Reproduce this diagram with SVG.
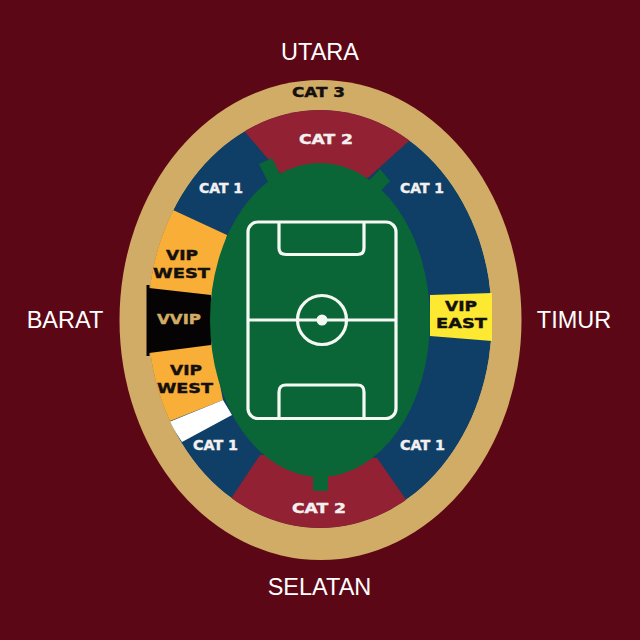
<svg xmlns="http://www.w3.org/2000/svg" width="640" height="640" viewBox="0 0 640 640">
<style>
.d{font-family:"Liberation Sans",Arial,sans-serif;font-size:23.500px;fill:#fff;text-anchor:middle}
.s{font-family:"DejaVu Sans",sans-serif;font-weight:bold;font-size:13.500px;stroke-width:.4px}
.w{fill:#f4f0f0;stroke:#f4f0f0}.k{fill:#14100e;stroke:#14100e}.g{fill:#d2ad67;stroke:#d2ad67}
.p{fill:none;stroke:#f6f8f4;stroke-width:3.200}
</style>
<defs>
<clipPath id="inner"><ellipse cx="320" cy="319" rx="172" ry="209"/></clipPath>
</defs>
<rect width="640" height="640" fill="#5c0715"/>
<g id="cat3"><ellipse cx="320.500" cy="320" rx="201" ry="240" fill="#d1ac66"/>
<text class="s k" x="292" y="97" textLength="53" lengthAdjust="spacingAndGlyphs">CAT 3</text></g>
<g id="stands" clip-path="url(#inner)">
<ellipse id="cat1-base" cx="320" cy="319" rx="172" ry="209" fill="#0f3f66"/>
<polygon id="cat2-north-shape" points="230,110 245,132 280,173 368,178 410,140 425,100" fill="#912133"/>
<polygon id="cat2-south-shape" points="222,512 232,497 260,455 377,458 405,498 418,535 222,535" fill="#912133"/>
<polygon id="vip-west-north-shape" points="173,210 227,235 211,300 140,295 140,205" fill="#f9ae38"/>
<polygon id="vip-west-south-shape" points="140,345 211,340 223,400 170,421 140,430" fill="#f9ae38"/>
<polygon id="white-strip" points="169,422 223,400 232,415 182,442" fill="#fff"/>
</g>
<g id="vvip"><polygon points="149,288 211,295 211,345 149,353" fill="#050303"/>
<rect x="146.500" y="285" width="3" height="71" fill="#050303"/>
<text class="s g" x="157" y="324" textLength="44" lengthAdjust="spacingAndGlyphs">VVIP</text></g>
<g id="vip-east"><polygon points="430,295 492,293 492,341 430,336" fill="#fde932"/>
<text class="s k" x="445" y="311" textLength="32" lengthAdjust="spacingAndGlyphs">VIP</text>
<text class="s k" x="436" y="328" textLength="51" lengthAdjust="spacingAndGlyphs">EAST</text></g>
<g id="field" fill="#0a6636">
<ellipse cx="320" cy="320" rx="110" ry="157"/>
<polygon points="259,164 272,158 286,186 273,192"/>
<polygon points="364,186 380,169 390,181 374,198"/>
<path d="M313,470H328V489Q328,491 326,491H315Q313,491 313,489Z"/>
</g>
<g id="pitch">
<rect class="p" x="248" y="222" width="148" height="196.500" rx="10"/>
<line class="p" x1="248" y1="320" x2="396" y2="320"/>
<circle class="p" cx="322" cy="320" r="24.500"/>
<circle cx="322" cy="320" r="5.500" fill="#f6f8f4"/>
<path class="p" d="M279,222V248Q279,254.500 286,254.500H357.500Q364,254.500 364,248V222"/>
<path class="p" d="M279,418.500V392Q279,385 286,385H357.500Q364,385 364,392V418.500"/>
</g>
<g id="cat2-north"><text class="s w" x="299" y="144" textLength="54" lengthAdjust="spacingAndGlyphs">CAT 2</text></g>
<g id="cat2-south"><text class="s w" x="292" y="513" textLength="54" lengthAdjust="spacingAndGlyphs">CAT 2</text></g>
<g id="cat1-nw"><text class="s w" x="199" y="193" textLength="44" lengthAdjust="spacingAndGlyphs">CAT 1</text></g>
<g id="cat1-ne"><text class="s w" x="400" y="193" textLength="44" lengthAdjust="spacingAndGlyphs">CAT 1</text></g>
<g id="cat1-sw"><text class="s w" x="193" y="450" textLength="45" lengthAdjust="spacingAndGlyphs">CAT 1</text></g>
<g id="cat1-se"><text class="s w" x="400" y="450" textLength="45" lengthAdjust="spacingAndGlyphs">CAT 1</text></g>
<g id="vip-west-north"><text class="s k" x="166" y="260" textLength="32" lengthAdjust="spacingAndGlyphs">VIP</text>
<text class="s k" x="153" y="278" textLength="57" lengthAdjust="spacingAndGlyphs">WEST</text></g>
<g id="vip-west-south"><text class="s k" x="170" y="375" textLength="32" lengthAdjust="spacingAndGlyphs">VIP</text>
<text class="s k" x="157" y="393" textLength="56" lengthAdjust="spacingAndGlyphs">WEST</text></g>
<g id="directions">
<text class="d" x="320" y="60">UTARA</text>
<text class="d" x="65" y="328">BARAT</text>
<text class="d" x="574" y="328">TIMUR</text>
<text class="d" x="319.500" y="595">SELATAN</text>
</g>
</svg>
